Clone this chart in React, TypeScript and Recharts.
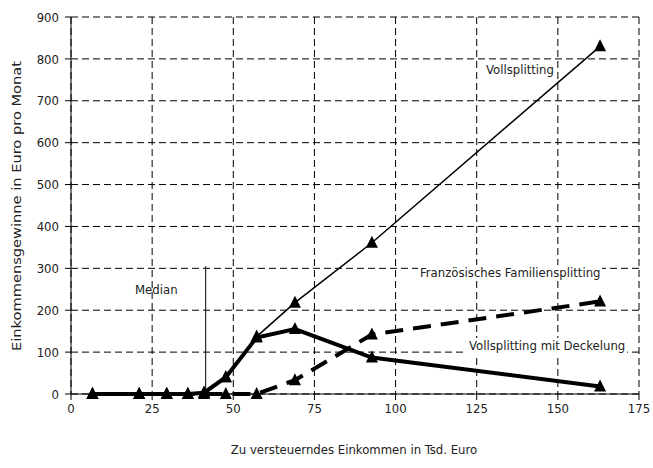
import React from 'react';
import {
  LineChart,
  Line,
  XAxis,
  YAxis,
  CartesianGrid,
  ReferenceLine,
} from 'recharts';

// Einkommen in Tsd. Euro
const incomes = [6.6, 21, 29.5, 36, 41, 47.7, 57.2, 69, 92.7, 163];
const vollsplitting = [0, 0, 0, 0, 3, 40, 137, 218, 361, 830];
const deckelung = [0, 0, 0, 0, 3, 40, 135, 155, 87, 18];
const franzoesisch = [0, 0, 0, 0, 0, 0, 0, 33, 142, 221];

const xTicks = [0, 25, 50, 75, 100, 125, 150, 175];
const yTicks = [0, 100, 200, 300, 400, 500, 600, 700, 800, 900];

const medianIncome = 41.5;
const medianTop = 305;

const data = incomes.map((income, i) => ({
  income,
  voll: vollsplitting[i],
  deckel: deckelung[i],
  franz: franzoesisch[i],
}));

const font = '"DejaVu Sans Condensed", "Liberation Sans Narrow", sans-serif';

const Triangle = (props: any) => {
  const { cx, cy } = props;
  if (cx == null || cy == null) return null;
  return (
    <path
      d={`M${cx},${cy - 7} L${cx - 6},${cy + 5} L${cx + 6},${cy + 5} Z`}
      fill="#000"
      stroke="none"
    />
  );
};

const note: React.CSSProperties = {
  position: 'absolute',
  fontFamily: font,
  fontSize: 13,
  color: '#222',
  whiteSpace: 'nowrap',
  lineHeight: '16px',
};

export default function App() {
  return (
    <div style={{ position: 'absolute', left: 0, top: 0, width: 653, height: 468, background: '#fff' }}>
      <LineChart
        width={653}
        height={468}
        data={data}
        margin={{ top: 17, right: 14, left: 0, bottom: 44 }}
      >
        <CartesianGrid stroke="#000" strokeDasharray="7 4" strokeWidth={1} />
        <XAxis
          type="number"
          dataKey="income"
          domain={[0, 175]}
          ticks={xTicks}
          height={30}
          stroke="#000"
          tickSize={6}
          tickMargin={4}
          tick={{ fill: '#222', fontSize: 13, fontFamily: font }}
        />
        <YAxis
          type="number"
          domain={[0, 900]}
          ticks={yTicks}
          width={71}
          stroke="#000"
          tickSize={6}
          tickMargin={6}
          tick={{ fill: '#222', fontSize: 13, fontFamily: font }}
        />
        <ReferenceLine
          segment={[
            { x: medianIncome, y: 0 },
            { x: medianIncome, y: medianTop },
          ]}
          stroke="#000"
          strokeWidth={1}
        />
        <Line
          dataKey="franz"
          stroke="#000"
          strokeWidth={4}
          strokeDasharray="18 10"
          dot={<Triangle />}
          activeDot={false}
          isAnimationActive={false}
        />
        <Line
          dataKey="deckel"
          stroke="#000"
          strokeWidth={4}
          dot={<Triangle />}
          activeDot={false}
          isAnimationActive={false}
        />
        <Line
          dataKey="voll"
          stroke="#000"
          strokeWidth={1.5}
          dot={<Triangle />}
          activeDot={false}
          isAnimationActive={false}
        />
      </LineChart>

      <div style={{ ...note, left: 484, top: 62, background: '#fff', padding: '0 2px' }}>Vollsplitting</div>
      <div style={{ ...note, left: 418, top: 265, background: '#fff', padding: '0 2px' }}>Französisches Familiensplitting</div>
      <div style={{ ...note, left: 467, top: 338, background: '#fff', padding: '0 2px' }}>Vollsplitting mit Deckelung</div>
      <div style={{ ...note, left: 135, top: 282 }}>Median</div>

      <div style={{ ...note, left: 0, width: 653, textAlign: 'center', top: 442, paddingLeft: 55, boxSizing: 'border-box' }}>
        Zu versteuerndes Einkommen in Tsd. Euro
      </div>
      <div
        style={{
          ...note,
          left: 17,
          top: 206,
          transform: 'translate(-50%, -50%) rotate(-90deg) scaleX(1.25)',
        }}
      >
        Einkommensgewinne in Euro pro Monat
      </div>
    </div>
  );
}
